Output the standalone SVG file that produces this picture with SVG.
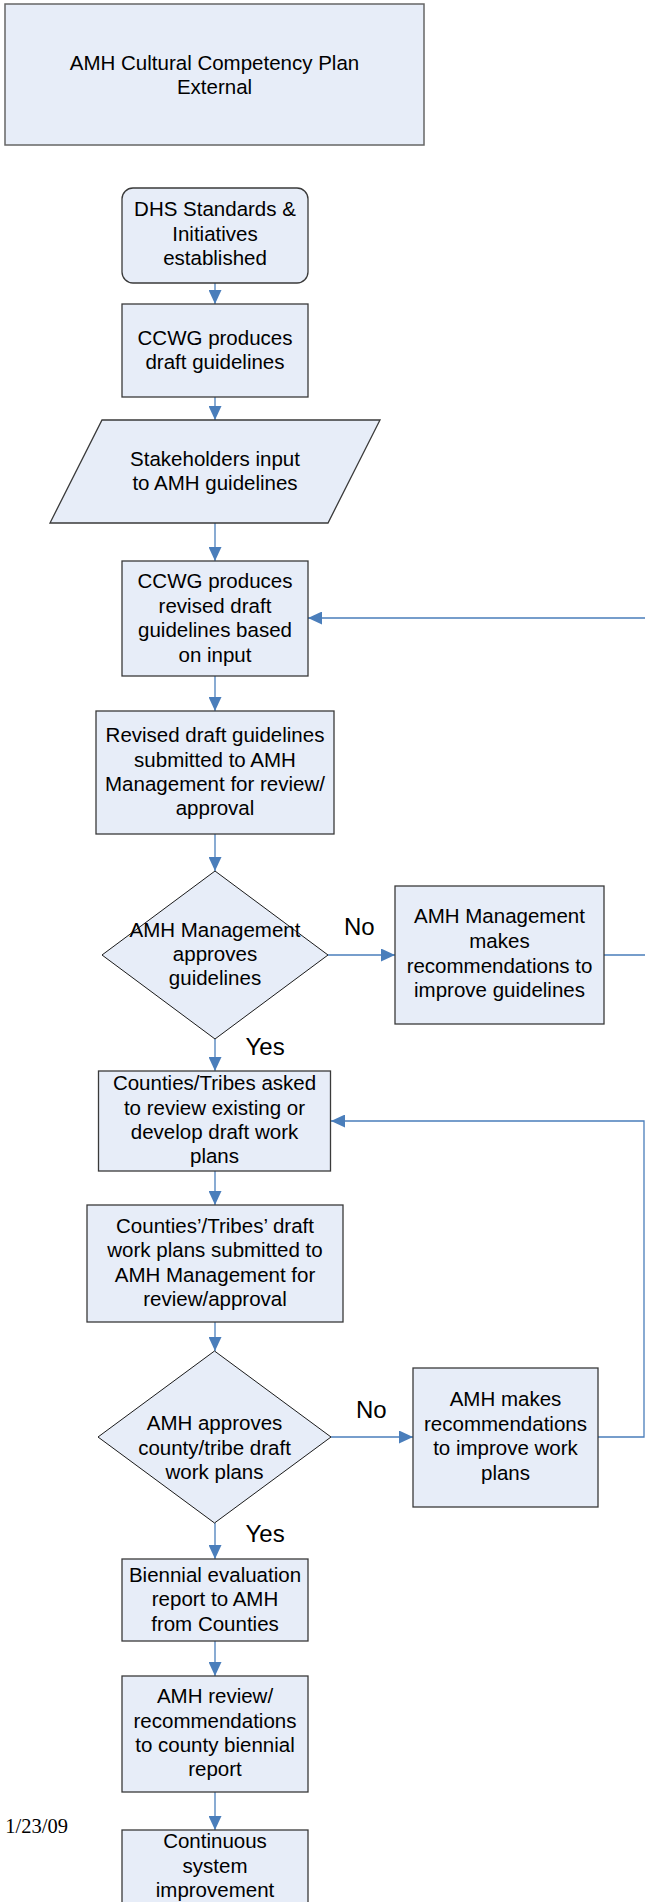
<svg xmlns="http://www.w3.org/2000/svg" width="645" height="1902" viewBox="0 0 645 1902">
<defs>
<style>
.n{fill:#E7EDF8;stroke:#3A3A3A;stroke-width:1.3}
.d{fill:#E7EDF8;stroke:#1A1A1A;stroke-width:1}
.t{font-family:"Liberation Sans",Arial,sans-serif;font-size:20.5px;fill:#000;text-anchor:middle}
.l{font-family:"Liberation Sans",Arial,sans-serif;font-size:24px;fill:#000}
.c{fill:none;stroke:#4A7EBB;stroke-width:1.3}
</style>
<marker id="ah" markerUnits="userSpaceOnUse" markerWidth="14" markerHeight="13" refX="14" refY="6.5" orient="auto">
<path d="M0,0 L14,6.5 L0,13 z" fill="#4A7EBB"/>
</marker>
</defs>
<rect width="645" height="1902" fill="#fff"/>

<g id="title">
<rect x="5" y="4" width="419" height="141" fill="#E7EDF8" stroke="#666" stroke-width="1.5"/>
<text class="t" x="214.5" y="69.5">AMH Cultural Competency Plan</text>
<text class="t" x="214.5" y="94">External</text>
</g>

<g id="connectors">
<path class="c" marker-end="url(#ah)" d="M215,283 V304"/>
<path class="c" marker-end="url(#ah)" d="M215,397 V420"/>
<path class="c" marker-end="url(#ah)" d="M215,523 V561"/>
<path class="c" marker-end="url(#ah)" d="M215,676 V711"/>
<path class="c" marker-end="url(#ah)" d="M215,834 V871"/>
<path class="c" marker-end="url(#ah)" d="M215,1039 V1071"/>
<path class="c" marker-end="url(#ah)" d="M328,955 H395"/>
<path class="c" marker-end="url(#ah)" d="M604,955 H648 V618 H308"/>
<path class="c" marker-end="url(#ah)" d="M215,1171 V1205"/>
<path class="c" marker-end="url(#ah)" d="M215,1322 V1351"/>
<path class="c" marker-end="url(#ah)" d="M331,1437 H413"/>
<path class="c" marker-end="url(#ah)" d="M598,1437 H644 V1121 H331"/>
<path class="c" marker-end="url(#ah)" d="M215,1523 V1559"/>
<path class="c" marker-end="url(#ah)" d="M215,1641 V1676"/>
<path class="c" marker-end="url(#ah)" d="M215,1792 V1830"/>
</g>

<g id="n_dhs">
<rect class="n" x="122" y="188" width="186" height="95" rx="11"/>
<text class="t" x="215" y="216">DHS Standards &amp;</text>
<text class="t" x="215" y="240.5">Initiatives</text>
<text class="t" x="215" y="265">established</text>
</g>

<g id="n_ccwg_draft">
<rect class="n" x="122" y="304" width="186" height="93"/>
<text class="t" x="215" y="344.5">CCWG produces</text>
<text class="t" x="215" y="369">draft guidelines</text>
</g>

<g id="n_stakeholders">
<polygon class="n" points="102,420 380,420 328,523 50,523"/>
<text class="t" x="215" y="466">Stakeholders input</text>
<text class="t" x="215" y="490">to AMH guidelines</text>
</g>

<g id="n_ccwg_revised">
<rect class="n" x="122" y="561" width="186" height="115"/>
<text class="t" x="215" y="588">CCWG produces</text>
<text class="t" x="215" y="612.5">revised draft</text>
<text class="t" x="215" y="637">guidelines based</text>
<text class="t" x="215" y="661.5">on input</text>
</g>

<g id="n_revised_submitted">
<rect class="n" x="96" y="711" width="238" height="123"/>
<text class="t" x="215" y="742">Revised draft guidelines</text>
<text class="t" x="215" y="766.5">submitted to AMH</text>
<text class="t" x="215" y="791">Management for review/</text>
<text class="t" x="215" y="815">approval</text>
</g>

<g id="n_decision1">
<polygon class="d" points="215,871 328,955 215,1039 102,955"/>
<text class="t" x="215" y="936.5">AMH Management</text>
<text class="t" x="215" y="961">approves</text>
<text class="t" x="215" y="985">guidelines</text>
<text class="l" x="344" y="935">No</text>
<text class="l" x="245.5" y="1055">Yes</text>
</g>

<g id="n_mgmt_recommend">
<rect class="n" x="395" y="886" width="209" height="138"/>
<text class="t" x="499.5" y="923">AMH Management</text>
<text class="t" x="499.5" y="948">makes</text>
<text class="t" x="499.5" y="972.5">recommendations to</text>
<text class="t" x="499.5" y="997">improve guidelines</text>
</g>

<g id="n_counties_asked">
<rect class="n" x="98.5" y="1071" width="232" height="100"/>
<text class="t" x="214.5" y="1090">Counties/Tribes asked</text>
<text class="t" x="214.5" y="1114.5">to review existing or</text>
<text class="t" x="214.5" y="1139">develop draft work</text>
<text class="t" x="214.5" y="1163">plans</text>
</g>

<g id="n_counties_submitted">
<rect class="n" x="87" y="1205" width="256" height="117"/>
<text class="t" x="215" y="1232.5">Counties’/Tribes’ draft</text>
<text class="t" x="215" y="1257">work plans submitted to</text>
<text class="t" x="215" y="1281.5">AMH Management for</text>
<text class="t" x="215" y="1306">review/approval</text>
</g>

<g id="n_decision2">
<polygon class="d" points="214.5,1351 331,1437 214.5,1523 98,1437"/>
<text class="t" x="214.5" y="1430">AMH approves</text>
<text class="t" x="214.5" y="1454.5">county/tribe draft</text>
<text class="t" x="214.5" y="1479">work plans</text>
<text class="l" x="356" y="1417.5">No</text>
<text class="l" x="245.5" y="1542">Yes</text>
</g>

<g id="n_amh_recommend">
<rect class="n" x="413" y="1368" width="185" height="139"/>
<text class="t" x="505.5" y="1405.5">AMH makes</text>
<text class="t" x="505.5" y="1430.5">recommendations</text>
<text class="t" x="505.5" y="1455">to improve work</text>
<text class="t" x="505.5" y="1480">plans</text>
</g>

<g id="n_biennial">
<rect class="n" x="122" y="1559" width="186" height="82"/>
<text class="t" x="215" y="1582">Biennial evaluation</text>
<text class="t" x="215" y="1606">report to AMH</text>
<text class="t" x="215" y="1630.5">from Counties</text>
</g>

<g id="n_review">
<rect class="n" x="122" y="1676" width="186" height="116"/>
<text class="t" x="215" y="1703">AMH review/</text>
<text class="t" x="215" y="1727.5">recommendations</text>
<text class="t" x="215" y="1752">to county biennial</text>
<text class="t" x="215" y="1776">report</text>
</g>

<g id="n_continuous">
<rect class="n" x="122" y="1830" width="186" height="90"/>
<text class="t" x="215" y="1848">Continuous</text>
<text class="t" x="215" y="1873">system</text>
<text class="t" x="215" y="1897">improvement</text>
</g>

<text x="68" y="1833" font-family="'Liberation Serif','Times New Roman',serif" font-size="20.5" text-anchor="end">1/23/09</text>
</svg>
